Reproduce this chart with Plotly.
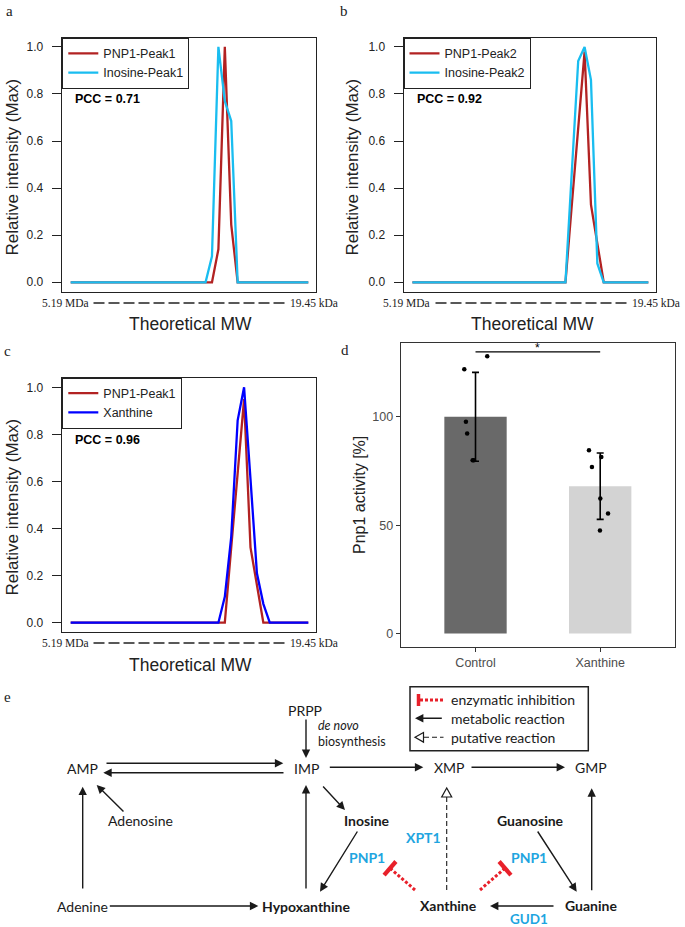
import plotly.graph_objects as go

W, H = 685, 927

# ---------------- data ----------------
# panels a-c: relative intensity per fraction (38 fractions, 5.19 MDa -> 19.45 kDa)
pnp1_peak1_a = [0, 0, 0, 0, 0, 0, 0, 0, 0, 0,
                0, 0, 0, 0, 0, 0, 0, 0, 0, 0,
                0, 0, 0, 0.14, 1.0, 0.245, 0, 0, 0, 0,
                0, 0, 0, 0, 0, 0, 0, 0]
inosine_peak1 = [0, 0, 0, 0, 0, 0, 0, 0, 0, 0,
                 0, 0, 0, 0, 0, 0, 0, 0, 0, 0,
                 0, 0, 0.11, 1.0, 0.77, 0.685, 0, 0, 0, 0,
                 0, 0, 0, 0, 0, 0, 0, 0]
pnp1_peak2 = [0, 0, 0, 0, 0, 0, 0, 0, 0, 0,
              0, 0, 0, 0, 0, 0, 0, 0, 0, 0,
              0, 0, 0, 0, 0, 0.33, 0.66, 0.98, 0.33, 0.165,
              0, 0, 0, 0, 0, 0, 0, 0]
inosine_peak2 = [0, 0, 0, 0, 0, 0, 0, 0, 0, 0,
                 0, 0, 0, 0, 0, 0, 0, 0, 0, 0,
                 0, 0, 0, 0, 0, 0.47, 0.94, 1.0, 0.86, 0.08,
                 0, 0, 0, 0, 0, 0, 0, 0]
pnp1_peak1_c = [0, 0, 0, 0, 0, 0, 0, 0, 0, 0,
                0, 0, 0, 0, 0, 0, 0, 0, 0, 0,
                0, 0, 0, 0, 0, 0.32, 0.64, 0.95, 0.32, 0.16,
                0, 0, 0, 0, 0, 0, 0, 0]
xanthine_profile = [0, 0, 0, 0, 0, 0, 0, 0, 0, 0,
                    0, 0, 0, 0, 0, 0, 0, 0, 0, 0,
                    0, 0, 0, 0, 0.11, 0.365, 0.86, 1.0, 0.61, 0.21,
                    0.08, 0, 0, 0, 0, 0, 0, 0]
pcc_values = ["0.71", "0.92", "0.96"]
mw_left, mw_right = "5.19 MDa", "19.45 kDa"
y_ticks = [0, 0.2, 0.4, 0.6, 0.8, 1.0]
y_ticklabels = ["0.0", "0.2", "0.4", "0.6", "0.8", "1.0"]

# panel d: Pnp1 activity
groups = ["Control", "Xanthine"]
group_means = [100, 68]
group_sds = [20.5, 15.3]
control_points = [128.0, 122.0, 97.7, 92.3, 80.0, 80.0]
xanthine_points = [84.6, 81.5, 76.9, 62.3, 55.4, 47.5]
control_jitter = [0.094, -0.09, -0.077, -0.067, -0.023, -0.013]
xanthine_jitter = [-0.09, 0.009, -0.066, 0.001, 0.063, -0.002]
sig_label = "*"

RED = "#B22222"
CYAN = "#19BDF0"
BLUE = "#0000FF"
ENZ = "#1EA5E0"
INH = "#E8202A"
DARK = "#1a1a1a"
SANS = "Liberation Sans"
SERIF = "Liberation Serif"
LATO = "Lato"


def px(x):
    return x / W


def py(y):
    return 1 - y / H


fig = go.Figure()

profiles = [
    ("x", "y", "legend", [(pnp1_peak1_a, RED, "PNP1-Peak1"), (inosine_peak1, CYAN, "Inosine-Peak1")]),
    ("x2", "y2", "legend2", [(pnp1_peak2, RED, "PNP1-Peak2"), (inosine_peak2, CYAN, "Inosine-Peak2")]),
    ("x3", "y3", "legend3", [(pnp1_peak1_c, RED, "PNP1-Peak1"), (xanthine_profile, BLUE, "Xanthine")]),
]
for xa, ya, lg, series in profiles:
    for vals, col, name in series:
        fig.add_trace(go.Scatter(
            x=list(range(len(vals))), y=vals, mode="lines", name=name,
            line=dict(color=col, width=2.3), xaxis=xa, yaxis=ya, legend=lg))

# panel d
fig.add_trace(go.Bar(
    x=[1, 2], y=group_means, width=0.5, marker=dict(color=["#696969", "#D3D3D3"], line=dict(width=0)),
    error_y=dict(type="data", array=group_sds, color="black", thickness=1.6, width=3.5),
    xaxis="x4", yaxis="y4", showlegend=False))
fig.add_trace(go.Scatter(
    x=[1 + j for j in control_jitter] + [2 + j for j in xanthine_jitter],
    y=control_points + xanthine_points, mode="markers",
    marker=dict(color="black", size=4.5), xaxis="x4", yaxis="y4", showlegend=False))
fig.add_shape(type="line", xref="x4", yref="y4", x0=1, x1=2, y0=130, y1=130,
              line=dict(color="black", width=1.2))
fig.add_annotation(x=1.5, y=130, xref="x4", yref="y4", text=sig_label, showarrow=False,
                   yanchor="bottom", yshift=-5, font=dict(family=SANS, size=12, color="black"))

# axes
frame = dict(showline=True, mirror=True, linecolor="#222", linewidth=1, showgrid=False, zeroline=False)
xprof = dict(frame, range=[-1.4, 38.2], showticklabels=False, ticks="")
yprof = dict(frame, range=[-0.04, 1.04], tickvals=y_ticks, ticktext=y_ticklabels, ticks="outside",
             ticklen=9, tickcolor="#222", ticklabelstandoff=6, tickfont=dict(family=SANS, size=12, color="#222"))

fig.update_layout(
    width=W, height=H, margin=dict(l=0, r=0, t=0, b=0),
    paper_bgcolor="white", plot_bgcolor="white",
    font=dict(family=SANS, color="#222"),
    xaxis=dict(xprof, domain=[px(61.7), px(316)], anchor="y"),
    yaxis=dict(yprof, domain=[py(291.7), py(37.5)], anchor="x"),
    xaxis2=dict(xprof, domain=[px(403.5), px(656)], anchor="y2"),
    yaxis2=dict(yprof, domain=[py(291.7), py(37.5)], anchor="x2"),
    xaxis3=dict(xprof, domain=[px(61.7), px(316)], anchor="y3"),
    yaxis3=dict(yprof, domain=[py(632.1), py(377.9)], anchor="x3"),
    xaxis4=dict(frame, domain=[px(400.7), px(675)], anchor="y4", range=[0.4, 2.6],
                tickvals=[1, 2], ticktext=groups, ticks="outside", ticklen=4, tickcolor="#333",
                linecolor="#333", tickfont=dict(family=SANS, size=12.5, color="#4D4D4D")),
    yaxis4=dict(frame, domain=[py(647), py(342.7)], anchor="x4", range=[-6.2, 134.2],
                tickvals=[0, 50, 100], ticks="outside", ticklen=4, tickcolor="#333",
                linecolor="#333", tickfont=dict(family=SANS, size=12.5, color="#4D4D4D")),
    showlegend=True,
)
leg = dict(xanchor="left", yanchor="top", bordercolor="#222", borderwidth=1, bgcolor="white",
           font=dict(family=SANS, size=12.5, color="#222"), itemwidth=30, tracegroupgap=0,
           traceorder="normal")
fig.update_layout(
    legend=dict(leg, x=px(62.3), y=py(37.7)),
    legend2=dict(leg, x=px(403.5), y=py(37.7)),
    legend3=dict(leg, x=px(62.3), y=py(377.5)),
)


def txt(x, y, s, size=14, color=DARK, family=LATO, xanchor="center", angle=0):
    fig.add_annotation(x=px(x), y=py(y), xref="paper", yref="paper", text=s, showarrow=False,
                       textangle=angle, xanchor=xanchor, yanchor="middle",
                       font=dict(family=family, size=size, color=color))


def seg(x0, y0, x1, y1, color=DARK, width=1.4, dash="solid"):
    fig.add_shape(type="line", xref="paper", yref="paper", x0=px(x0), y0=py(y0), x1=px(x1), y1=py(y1),
                  line=dict(color=color, width=width, dash=dash))


def arrow(x0, y0, x1, y1):
    fig.add_annotation(x=px(x1), y=py(y1), xref="paper", yref="paper", ax=x0 - x1, ay=y0 - y1,
                       axref="pixel", ayref="pixel", text="", showarrow=True, arrowhead=2,
                       arrowsize=1.2, arrowwidth=1.4, arrowcolor=DARK, standoff=0)


def open_tri(pts):
    d = "M " + " L ".join(f"{px(a)},{py(b)}" for a, b in pts) + " Z"
    fig.add_shape(type="path", xref="paper", yref="paper", path=d,
                  line=dict(color=DARK, width=1.2), fillcolor="white")


# panel letters
for lbl, x, y in [("a", 9, 11), ("b", 344, 11), ("c", 8, 351), ("d", 345, 350), ("e", 8, 697)]:
    txt(x, y, lbl, size=15, color="#222", family=SERIF)

# profile panel decorations
for (dx, dy, pcc) in [(0, 0, pcc_values[0]), (342, 0, pcc_values[1]), (0, 340, pcc_values[2])]:
    txt(72.7 + dx, 99.5 + dy, f"<b>PCC = {pcc}</b>", size=12.5, color="black", family=SANS, xanchor="left")
    txt(90.5 + dx, 303 + dy, mw_left, size=11.5, color="#222", family=SERIF, xanchor="right")
    txt(287.5 + dx, 303 + dy, mw_right, size=11.5, color="#222", family=SERIF, xanchor="left")
    seg(93.5 + dx, 303 + dy, 285.5 + dx, 303 + dy, color="#222", width=1.3, dash="11px,4px")
    txt(190 + dx, 324.5 + dy, "Theoretical MW", size=17.5, color="#222", family=SANS)
    txt(12 + dx - (2 if dx else 0), 167.5 + dy, "Relative intensity (Max)", size=17, color="#222",
        family=SANS, angle=-90)

txt(359, 495, "Pnp1 activity [%]", size=16, color="#222", family=SANS, angle=-90)

# ---------------- panel e: pathway ----------------
txt(305, 710, "PRPP")
txt(316, 725, "<i>de novo</i>", size=12.5, xanchor="left")
txt(316, 741, "biosynthesis", size=12.5, xanchor="left")
txt(82, 768.3, "AMP")
txt(306, 768.3, "IMP")
txt(449, 767.3, "XMP")
txt(591, 767.3, "GMP")
txt(140, 820, "Adenosine")
txt(367, 820.7, "<b>Inosine</b>")
txt(530.5, 820.7, "<b>Guanosine</b>")
txt(423, 837.5, "<b>XPT1</b>", color=ENZ)
txt(367, 857, "<b>PNP1</b>", color=ENZ)
txt(529, 857, "<b>PNP1</b>", color=ENZ)
txt(82, 906, "Adenine")
txt(259.5, 906, "<b>Hypoxanthine</b>", xanchor="left")
txt(448, 905.5, "<b>Xanthine</b>")
txt(591, 905.5, "<b>Guanine</b>")
txt(529, 918.5, "<b>GUD1</b>", size=13.5, color=ENZ)

arrow(306, 718, 306, 758)
arrow(105, 763.3, 283.3, 763.3)
arrow(285, 772.7, 103.3, 772.7)
arrow(125, 813, 96.7, 785)
arrow(82.7, 890, 82.7, 786.7)
arrow(108.3, 906, 258.3, 906)
arrow(306, 890, 306, 785)
arrow(321.7, 785, 345, 810)
arrow(358.3, 830, 320, 891.7)
arrow(328.3, 767.3, 423.3, 767.3)
arrow(470, 767.3, 565, 767.3)
arrow(591.7, 891.7, 591.7, 788.3)
arrow(536.7, 830, 576.7, 891.7)
arrow(555, 906, 490, 906)

# putative reaction (dashed, open head)
seg(446.7, 890, 446.7, 797, width=1.1, dash="5px,3px")
open_tri([(446.7, 788), (441.7, 797), (451.7, 797)])

# enzymatic inhibition
seg(415, 890, 391, 869, color=INH, width=3, dash="3px,2px")
seg(384.1, 875.1, 395.9, 861.5, color=INH, width=4.2)
seg(480, 890, 504, 869, color=INH, width=3, dash="3px,2px")
seg(499.1, 861.5, 510.9, 875.1, color=INH, width=4.2)

# legend of panel e
fig.add_shape(type="rect", xref="paper", yref="paper", x0=px(410), y0=py(750.7), x1=px(588.3), y1=py(686.7),
              line=dict(color="#222", width=1.5), fillcolor="rgba(0,0,0,0)")
seg(418.5, 694, 418.5, 706, color=INH, width=3.5)
seg(420, 700, 444, 700, color=INH, width=3, dash="3px,2px")
arrow(443.3, 718.3, 415, 718.3)
seg(424, 737.3, 443.5, 737.3, width=1.1, dash="5px,3px")
open_tri([(415, 737.3), (423.5, 732.5), (423.5, 742.1)])
txt(449, 699.3, "enzymatic inhibition", xanchor="left")
txt(449, 718.3, "metabolic reaction", xanchor="left")
txt(449, 737.3, "putative reaction", xanchor="left")

fig.write_html(
    "out.html",
    config={"displayModeBar": False},
    post_script="document.body.style.margin='0';document.body.style.padding='0';"
                "document.body.style.overflow='hidden';",
)
